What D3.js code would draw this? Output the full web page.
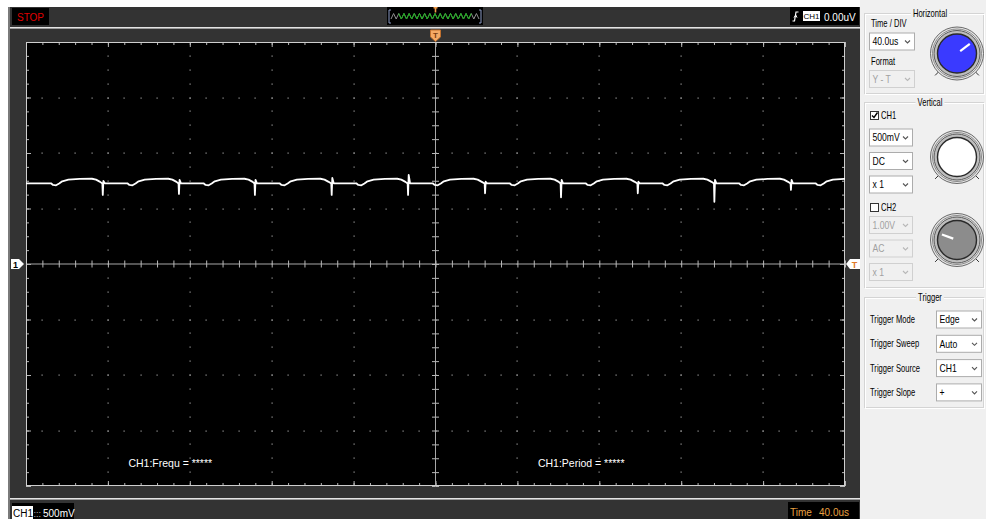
<!DOCTYPE html>
<html>
<head>
<meta charset="utf-8">
<script src="https://cdn.jsdelivr.net/npm/d3@7"></script>
<style>
body { margin: 0; background: #fff; }
svg { display: block; font-family: "Liberation Sans", Arial, sans-serif; }
.pn text { font-size: 10px; fill: #000; }
</style>
</head>
<body>
<script>

// ---- data ----
var timeDomain = [-200, 200];    // us  (40us / div, 10 div)
var voltDomain = [-2000, 2000];  // mV  (500mV / div, 8 div)

// CH1 trace, [time us, mV]
var trace = [
  [-200, 727], [-198.8, 727], [-187.8, 727], [-186.8, 712], [-185.3, 709], [-183.8, 725], [-182.3, 745], [-179.3, 760], [-173.8, 766], [-167.8, 768], [-165.8, 760], [-163.8, 740], [-162.7, 725], [-162.5, 622], [-162.2, 748], [-161.5, 727],
  [-150.5, 727], [-149.5, 712], [-148, 709], [-146.5, 725], [-145, 745], [-142, 760], [-136.5, 766], [-130.5, 768], [-128.5, 760], [-126.5, 740], [-125.5, 725], [-125.3, 631], [-125, 757], [-124.3, 727],
  [-113.3, 727], [-112.3, 712], [-110.8, 709], [-109.3, 725], [-107.8, 745], [-104.8, 760], [-99.3, 766], [-93.3, 768], [-91.3, 760], [-89.3, 740], [-88.4, 725], [-88.2, 622], [-87.9, 757], [-87.2, 727],
  [-76.2, 727], [-75.2, 712], [-73.7, 709], [-72.2, 725], [-70.7, 745], [-67.7, 760], [-62.2, 766], [-56.2, 768], [-54.2, 760], [-52.2, 740], [-50.9, 725], [-50.7, 622], [-50.4, 775], [-49.7, 727],
  [-38.7, 727], [-37.7, 712], [-36.2, 709], [-34.7, 725], [-33.2, 745], [-30.2, 760], [-24.7, 766], [-18.7, 768], [-16.7, 760], [-14.7, 740], [-13.6, 725], [-13.4, 622], [-13.1, 802], [-12.4, 727],
  [-1.4, 727], [-0.4, 712], [1.1, 709], [2.6, 725], [4.1, 745], [7.1, 760], [12.6, 766], [18.6, 768], [20.6, 760], [22.6, 740], [24.0, 725], [24.2, 637], [24.5, 741], [25.2, 727],
  [36.2, 727], [37.2, 712], [38.7, 709], [40.2, 725], [41.7, 745], [44.7, 760], [50.2, 766], [56.2, 768], [58.2, 760], [60.2, 740], [61.1, 725], [61.3, 601], [61.6, 757], [62.3, 727],
  [73.3, 727], [74.3, 712], [75.8, 709], [77.3, 725], [78.8, 745], [81.8, 760], [87.3, 766], [93.3, 768], [95.3, 760], [97.3, 740], [98.6, 725], [98.8, 637], [99.1, 741], [99.8, 727],
  [110.8, 727], [111.8, 712], [113.3, 709], [114.8, 725], [116.3, 745], [119.3, 760], [124.8, 766], [130.8, 768], [132.8, 760], [134.8, 740], [136.0, 725], [136.2, 561], [136.5, 757], [137.2, 727],
  [148.2, 727], [149.2, 712], [150.7, 709], [152.2, 725], [153.7, 745], [156.7, 760], [162.2, 766], [168.2, 768], [170.2, 760], [172.2, 740], [173.4, 725], [173.6, 667], [173.9, 757], [174.6, 727],
  [185.6, 727], [186.6, 712], [188.1, 709], [189.6, 725], [191.1, 745], [194.1, 760], [199.6, 766], [200, 766]
];

// little overview strip in the header (0 = low, 1 = high)
var overviewWave = [0, 1, 0, 1, 0, 1, 0, 1, 0, 1, 0, 1, 0, 1, 0, 1, 0, 1, 0, 1, 0, 1, 0, 1, 0, 1, 0, 1, 0, 1, 0, 1, 0, 1, 0];

var measureLabels = ['CH1:Frequ = *****', 'CH1:Period = *****'];
var measureTimes = [-150, 50];   // where the labels start (us)

var horizontalItems = ['40.0us', 'Y - T'];
var ch1Items = ['500mV', 'DC', 'x 1'];
var ch2Items = ['1.00V', 'AC', 'x 1'];
var triggerLabels = ['Trigger Mode', 'Trigger Sweep', 'Trigger Source', 'Trigger Slope'];
var triggerValues = ['Edge', 'Auto', 'CH1', '+'];


var svgWidth = 986, svgHeight = 519;
var plot = {left: 26, right: 845, top: 42, bottom: 486};

var svg = d3.select('body').append('svg')
  .attr('width', svgWidth)
  .attr('height', svgHeight)

svg.append('rect').attr('width', svgWidth).attr('height', svgHeight).attr('fill', '#fff')

// scope frame
svg.append('rect').attr('x', 8).attr('y', 7).attr('width', 852).attr('height', 512).attr('fill', '#333')
svg.append('rect').attr('x', 8).attr('y', 7).attr('width', 2).attr('height', 512).attr('fill', '#7a7a7a')
;[27, 498].forEach(function(yy) {
  svg.append('rect').attr('x', 10).attr('y', yy).attr('width', 850).attr('height', 1).attr('fill', '#e4e4e4')
  svg.append('rect').attr('x', 10).attr('y', yy + 1).attr('width', 850).attr('height', 1).attr('fill', '#9a9a9a')
})

var x = d3.scaleLinear().domain(timeDomain).range([plot.left, plot.right])
var y = d3.scaleLinear().domain(voltDomain).range([plot.bottom, plot.top])

var g = svg.append('g')

g.append('rect')
  .attr('x', plot.left).attr('y', plot.top)
  .attr('width', plot.right - plot.left).attr('height', plot.bottom - plot.top)
  .attr('fill', '#000')

var xMinor = d3.range(timeDomain[0], timeDomain[1] + 0.1, 8),
    xMajor = d3.range(timeDomain[0], timeDomain[1] + 0.1, 40),
    yMinor = d3.range(voltDomain[0], voltDomain[1] + 0.1, 125),
    yMajor = d3.range(voltDomain[0], voltDomain[1] + 0.1, 500);

// dotted grid
var dots = []
xMajor.slice(1, -1).filter(d => d != 0).forEach(function(t) {
  yMinor.slice(1, -1).forEach(v => dots.push([t, v]))
})
yMajor.slice(1, -1).filter(d => d != 0).forEach(function(v) {
  xMinor.slice(1, -1).forEach(t => dots.push([t, v]))
})
g.selectAll('.dot').data(dots).enter().append('rect')
  .attr('class', 'dot')
  .attr('x', d => Math.round(x(d[0])) - 0.5)
  .attr('y', d => Math.round(y(d[1])) - 0.5)
  .attr('width', 1.2).attr('height', 1.2)
  .attr('fill', '#9a9a9a')

// edge ticks through d3 axes
function edgeAxis(axisFn, scale, values, size, transform) {
  var a = axisFn(scale).tickValues(values).tickSize(size).tickSizeOuter(0).tickFormat('')
  var ax = g.append('g').attr('transform', transform).call(a)
  ax.select('.domain').remove()
  ax.selectAll('line').attr('stroke', '#b8b8b8')
}
edgeAxis(d3.axisBottom, x, xMinor, 3, `translate(0,${plot.top})`)
edgeAxis(d3.axisBottom, x, xMajor, 5, `translate(0,${plot.top})`)
edgeAxis(d3.axisTop, x, xMinor, 3, `translate(0,${plot.bottom})`)
edgeAxis(d3.axisTop, x, xMajor, 5, `translate(0,${plot.bottom})`)
edgeAxis(d3.axisRight, y, yMinor, 3, `translate(${plot.left},0)`)
edgeAxis(d3.axisRight, y, yMajor, 5, `translate(${plot.left},0)`)
edgeAxis(d3.axisLeft, y, yMinor, 3, `translate(${plot.right},0)`)
edgeAxis(d3.axisLeft, y, yMajor, 5, `translate(${plot.right},0)`)

// centre cross with ticks
g.append('line').attr('x1', plot.left).attr('x2', plot.right).attr('y1', y(0)).attr('y2', y(0)).attr('stroke', '#a8a8a8')
g.append('line').attr('x1', x(0)).attr('x2', x(0)).attr('y1', plot.top).attr('y2', plot.bottom).attr('stroke', '#a8a8a8')
edgeAxis(d3.axisBottom, x, xMinor, 3.5, `translate(0,${y(0)})`)
edgeAxis(d3.axisTop, x, xMinor, 3.5, `translate(0,${y(0)})`)
edgeAxis(d3.axisRight, y, yMinor, 3.5, `translate(${x(0)},0)`)
edgeAxis(d3.axisLeft, y, yMinor, 3.5, `translate(${x(0)},0)`)

g.append('rect')
  .attr('x', plot.left + 0.5).attr('y', plot.top + 0.5)
  .attr('width', plot.right - plot.left - 1).attr('height', plot.bottom - plot.top - 1)
  .attr('fill', 'none').attr('stroke', '#cfcfcf')

// the trace
var line = d3.line().x(d => x(d[0])).y(d => y(d[1]))
g.append('path').datum(trace)
  .attr('d', line)
  .attr('fill', 'none')
  .attr('stroke', '#fff')
  .attr('stroke-width', 1.8)
  .attr('stroke-linejoin', 'round')

// measurements
g.selectAll('.meas').data(measureLabels).enter().append('text')
  .attr('class', 'meas')
  .attr('x', (d, i) => x(measureTimes[i]))
  .attr('y', 467)
  .attr('fill', '#fff')
  .style('font-size', '10.5px')
  .text(d => d)

// markers: trigger (top), channel ground (left), trigger level (right)
var tx = x(0), y0 = y(0)
g.append('path')
  .attr('d', `M${tx - 5},30 h10 v7 l-5,4.5 l-5,-4.5 z`)
  .attr('fill', '#f5a965').attr('stroke', '#c0702e')
g.append('text').attr('x', tx).attr('y', 38).attr('text-anchor', 'middle')
  .style('font-size', '8px').style('font-weight', 'bold').attr('fill', '#7a3c10').text('T')

g.append('path')
  .attr('d', `M11,${y0 - 5} h8 l5,5 l-5,5 h-8 z`).attr('fill', '#fff')
g.append('text').attr('x', 15.5).attr('y', y0 + 3.5).attr('text-anchor', 'middle')
  .style('font-size', '9px').style('font-weight', 'bold').attr('fill', '#000').text('1')

g.append('path')
  .attr('d', `M846,${y0} l4,-5 h10 v10 h-10 z`).attr('fill', '#fff')
g.append('text').attr('x', 854.5).attr('y', y0 + 3.5).attr('text-anchor', 'middle')
  .style('font-size', '9px').style('font-weight', 'bold').attr('fill', '#e07a2a').text('T')

// ---- header ----
var hd = svg.append('g')
hd.append('rect').attr('x', 12).attr('y', 8).attr('width', 37).attr('height', 17).attr('fill', '#000')
hd.append('text').attr('x', 30.5).attr('y', 20.5).attr('text-anchor', 'middle')
  .attr('fill', '#e00000').style('font-size', '10px').text('STOP')

hd.append('rect').attr('x', 387).attr('y', 7).attr('width', 96).attr('height', 18).attr('fill', '#000')
var ox = d3.scaleLinear().domain([0, overviewWave.length - 1]).range([391, 479])
var oy = d3.scaleLinear().domain([0, 1]).range([19, 13.5])
var ovLine = d3.line().x((d, i) => ox(i)).y(d => oy(d))
hd.append('path').datum(overviewWave).attr('d', ovLine)
  .attr('fill', 'none').attr('stroke', '#909090').attr('stroke-width', 1)
hd.append('path').datum(overviewWave.slice(3, -3)).attr('d', d3.line().x((d, i) => ox(i + 3)).y(d => oy(d)))
  .attr('fill', 'none').attr('stroke', '#17b317').attr('stroke-width', 1)
;[[389, 1], [481, -1]].forEach(function(b) {
  hd.append('path').attr('d', `M${b[0] + 2 * b[1]},10 h${-2 * b[1]} v13 h${2 * b[1]}`)
    .attr('fill', 'none').attr('stroke', '#8d9cc6')
})
hd.append('path').attr('d', `M${tx - 2},7 h4 v1.5 h-1.2 v4 h-1.6 v-4 h-1.2 z`).attr('fill', '#f09a48')

hd.append('rect').attr('x', 790).attr('y', 7).attr('width', 69).attr('height', 18).attr('fill', '#000')
hd.append('path').attr('d', 'M792.5,21 h2 l1.5,-9 h2.5').attr('fill', 'none').attr('stroke', '#fff').attr('stroke-width', 1.2)
hd.append('path').attr('d', 'M794,17.5 l1.8,-2.5 l1.2,2.6').attr('fill', 'none').attr('stroke', '#fff').attr('stroke-width', 1)
hd.append('rect').attr('x', 803).attr('y', 11).attr('width', 17).attr('height', 10).attr('fill', '#fff')
hd.append('text').attr('x', 811.5).attr('y', 19.3).attr('text-anchor', 'middle')
  .style('font-size', '8px').attr('fill', '#000').text('CH1')
hd.append('text').attr('x', 824).attr('y', 20.5).style('font-size', '10px').attr('fill', '#fff').text('0.00uV')

// ---- footer ----
var ft = svg.append('g')
ft.append('rect').attr('x', 12).attr('y', 503).attr('width', 62).attr('height', 16).attr('fill', '#000')
ft.append('rect').attr('x', 12).attr('y', 506).attr('width', 21).attr('height', 13).attr('fill', '#fff')
ft.append('text').attr('x', 13).attr('y', 516.5).style('font-size', '10px').attr('fill', '#000').text('CH1')
ft.append('text').attr('x', 33.5).attr('y', 516.5).style('font-size', '9px').attr('fill', '#bbb').text(':::')
ft.append('text').attr('x', 43).attr('y', 516.5).style('font-size', '10px').attr('fill', '#fff').text('500mV')

ft.append('rect').attr('x', 788).attr('y', 502).attr('width', 71).attr('height', 17).attr('fill', '#000')
ft.append('text').attr('x', 790).attr('y', 515.5).style('font-size', '10px').attr('fill', '#e8a040').text('Time')
ft.append('text').attr('x', 819).attr('y', 515.5).style('font-size', '10px').attr('fill', '#e8a040').text('40.0us')

// ---- right control panel ----
var pn = svg.append('g').attr('class', 'pn')
pn.append('rect').attr('x', 860).attr('y', 0).attr('width', 126).attr('height', svgHeight).attr('fill', '#f0f0f0')

// the panel font is narrow, so squeeze it horizontally
function ptext(px, py, str, sx, anchor) {
  return pn.append('text')
    .attr('transform', `translate(${px},${py}) scale(${sx || 0.76},1)`)
    .attr('text-anchor', anchor || 'start')
    .text(str)
}

function groupBox(y1, y2, title) {
  pn.append('rect').attr('x', 864.5).attr('y', y1 + 0.5).attr('width', 119).attr('height', y2 - y1)
    .attr('fill', 'none').attr('stroke', '#d4d4d4')
  pn.append('rect').attr('x', 865.5).attr('y', y1 + 1.5).attr('width', 119).attr('height', y2 - y1)
    .attr('fill', 'none').attr('stroke', '#fff')
  var t = ptext(930, y1 + 4, title, 0.76, 'middle')
  var w = t.node().getBBox().width * 0.76
  pn.insert('rect', function() { return t.node() })
    .attr('x', 930 - w / 2 - 2).attr('y', y1 - 1).attr('width', w + 4).attr('height', 4).attr('fill', '#f0f0f0')
}

function dropdown(x0, yc, w, label, disabled) {
  pn.append('rect').attr('x', x0 + 0.5).attr('y', yc - 8.5).attr('width', w).attr('height', 17)
    .attr('fill', disabled ? '#f0f0f0' : '#fff').attr('stroke', disabled ? '#d0d0d0' : '#acacac')
  ptext(x0 + 3.5, yc + 3.7, label, 0.82).style('font-size', '10.5px')
    .style('fill', disabled ? '#a0a0a0' : '#000')
  pn.append('path').attr('d', `M${x0 + w - 9},${yc - 1} l2.5,2.5 l2.5,-2.5`)
    .attr('fill', 'none').attr('stroke', disabled ? '#b8b8b8' : '#555').attr('stroke-width', 1.1)
}

function checkbox(x0, y0, checked, label) {
  pn.append('rect').attr('x', x0 + 0.5).attr('y', y0 + 0.5).attr('width', 8).attr('height', 8)
    .attr('fill', '#fff').attr('stroke', '#333')
  if (checked) pn.append('path').attr('d', `M${x0 + 2},${y0 + 4.5} l2,2 l3.5,-5`)
    .attr('fill', 'none').attr('stroke', '#000').attr('stroke-width', 1.4)
  ptext(x0 + 11, y0 + 8, label)
}

function knob(cx, cy, fill, angle) {
  ;[135, 45].forEach(function(a) {
    var r = a * Math.PI / 180
    pn.append('line')
      .attr('x1', cx + 24 * Math.cos(r)).attr('y1', cy + 24 * Math.sin(r))
      .attr('x2', cx + 31 * Math.cos(r)).attr('y2', cy + 31 * Math.sin(r))
      .attr('stroke', '#333')
  })
  pn.append('circle').attr('cx', cx).attr('cy', cy).attr('r', 26.5).attr('fill', '#e4e4e4').attr('stroke', '#6a6a6a')
  pn.append('circle').attr('cx', cx).attr('cy', cy).attr('r', 24.5).attr('fill', 'none').attr('stroke', '#8a8a8a')
  pn.append('circle').attr('cx', cx).attr('cy', cy).attr('r', 23).attr('fill', '#bdbdbd').attr('stroke', '#5a5a5a')
  pn.append('circle').attr('cx', cx).attr('cy', cy).attr('r', 19.5).attr('fill', fill).attr('stroke', '#2a2a2a').attr('stroke-width', 1.4)
  if (angle != null) {
    var r = angle * Math.PI / 180
    pn.append('line')
      .attr('x1', cx + 4 * Math.cos(r)).attr('y1', cy + 4 * Math.sin(r))
      .attr('x2', cx + 16 * Math.cos(r)).attr('y2', cy + 16 * Math.sin(r))
      .attr('stroke', '#fff').attr('stroke-width', 2.2)
  }
}

// Horizontal
groupBox(13, 93, 'Horizontal')
ptext(871, 27, 'Time / DIV')
dropdown(869, 41.5, 45, horizontalItems[0], false)
ptext(871, 65, 'Format')
dropdown(869, 79, 45, horizontalItems[1], true)
knob(957, 53.5, '#3a3aff', -37)

// Vertical
groupBox(102, 287, 'Vertical')
checkbox(870, 111, true, 'CH1')
ch1Items.forEach((d, i) => dropdown(869, 137.5 + i * 23.5, 43, d, false))
knob(957, 157, '#fff', null)
checkbox(870, 203, false, 'CH2')
ch2Items.forEach((d, i) => dropdown(869, 225 + i * 23.5, 43, d, true))
knob(957, 240, '#8c8c8c', 200)

// Trigger
groupBox(297, 407, 'Trigger')
triggerLabels.forEach(function(d, i) {
  ptext(870, 323 + i * 24.3, d)
  dropdown(936, 319.5 + i * 24.3, 45, triggerValues[i], false)
})

</script>
</body>
</html>
